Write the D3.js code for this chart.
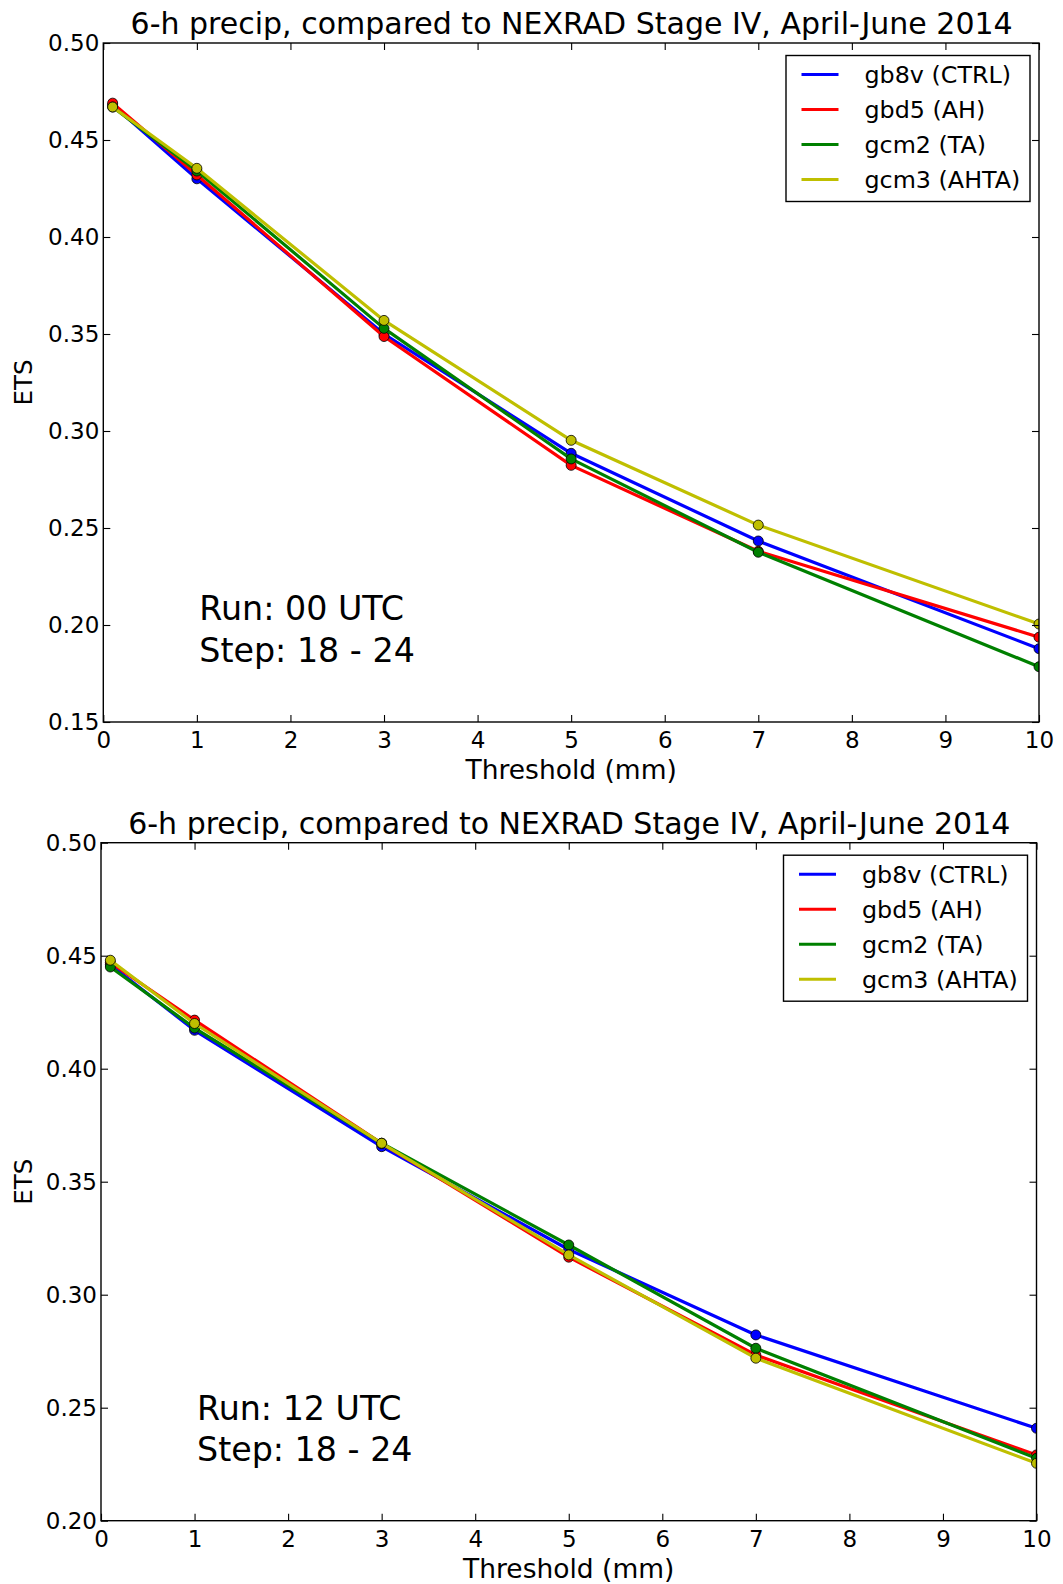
<!DOCTYPE html>
<html>
<head>
<meta charset="utf-8">
<script src="https://cdn.jsdelivr.net/npm/d3@7"></script>
<style>
  html, body { margin: 0; padding: 0; background: #ffffff; }
  svg { display: block; }
  text { font-family: "DejaVu Sans", sans-serif; fill: #000; }
</style>
</head>
<body>
<svg id="chart" width="1063" height="1584"></svg>
<script>
// Precipitation thresholds (mm) at which ETS was evaluated
const thresholds = [0.1, 1, 3, 5, 7, 10];

// Experiment names and line colours
const seriesNames = ["gb8v (CTRL)", "gbd5 (AH)", "gcm2 (TA)", "gcm3 (AHTA)"];
const seriesColors = ["#0000ff", "#ff0000", "#008000", "#bfbf00"];

// ETS, 00 UTC runs, 18-24 h forecasts
const ets00_gb8v = [0.468, 0.430, 0.350, 0.2885, 0.2433, 0.1878];
const ets00_gbd5 = [0.469, 0.432, 0.3487, 0.2823, 0.2380, 0.1937];
const ets00_gcm2 = [0.467, 0.434, 0.3529, 0.2856, 0.2375, 0.1785];
const ets00_gcm3 = [0.467, 0.4354, 0.357, 0.2952, 0.2515, 0.2005];

// ETS, 12 UTC runs, 18-24 h forecasts
const ets12_gb8v = [0.446, 0.417, 0.3655, 0.320, 0.2822, 0.2409];
const ets12_gbd5 = [0.447, 0.4215, 0.367, 0.3166, 0.2733, 0.2291];
const ets12_gcm2 = [0.445, 0.418, 0.367, 0.322, 0.2763, 0.2276];
const ets12_gcm3 = [0.448, 0.420, 0.367, 0.3176, 0.2719, 0.2254];

// Axis ticks
const xTicks = [0, 1, 2, 3, 4, 5, 6, 7, 8, 9, 10];
const yTicks00 = [0.15, 0.20, 0.25, 0.30, 0.35, 0.40, 0.45, 0.50];
const yTicks12 = [0.20, 0.25, 0.30, 0.35, 0.40, 0.45, 0.50];

const titleText = "6-h precip, compared to NEXRAD Stage IV, April-June 2014";
const xLabel = "Threshold (mm)";
const yLabel = "ETS";

const panels = [
  { id: "p00", box: { left: 103.3, right: 1039, top: 43, bottom: 722 },
    yDomain: [0.15, 0.50], yTicks: yTicks00,
    values: [ets00_gb8v, ets00_gbd5, ets00_gcm2, ets00_gcm3],
    note: ["Run: 00 UTC", "Step: 18 - 24"] },
  { id: "p12", box: { left: 101, right: 1036.5, top: 842.7, bottom: 1520.7 },
    yDomain: [0.20, 0.50], yTicks: yTicks12,
    values: [ets12_gb8v, ets12_gbd5, ets12_gcm2, ets12_gcm3],
    note: ["Run: 12 UTC", "Step: 18 - 24"] }
];

const svg = d3.select("#chart");
svg.append("rect").attr("width", 1063).attr("height", 1584).attr("fill", "#fff");

const TICK = 7;

panels.forEach(p => {
  const b = p.box;
  const w = b.right - b.left, h = b.bottom - b.top;
  const x = d3.scaleLinear().domain([0, 10]).range([b.left, b.right]);
  const y = d3.scaleLinear().domain(p.yDomain).range([b.bottom, b.top]);
  const g = svg.append("g").attr("class", "panel");

  const clipId = "clip-" + p.id;
  g.append("clipPath").attr("id", clipId)
    .append("rect").attr("x", b.left).attr("y", b.top).attr("width", w).attr("height", h);

  // Series: each line followed by its markers
  const line = d3.line().x((d, i) => x(thresholds[i])).y(d => y(d));
  const plot = g.append("g").attr("clip-path", `url(#${clipId})`);
  p.values.forEach((vals, si) => {
    plot.append("path").datum(vals)
      .attr("d", line)
      .attr("fill", "none")
      .attr("stroke", seriesColors[si])
      .attr("stroke-width", 3.2)
      .attr("stroke-linejoin", "round");
    plot.selectAll(null).data(vals).enter().append("circle")
      .attr("cx", (d, i) => x(thresholds[i]))
      .attr("cy", d => y(d))
      .attr("r", 5)
      .attr("fill", seriesColors[si])
      .attr("stroke", "#000")
      .attr("stroke-width", 0.8);
  });

  // Axes with inward ticks on all four sides
  const fmt = d3.format(".2f");
  const axB = g.append("g").attr("transform", `translate(0,${b.bottom})`)
    .call(d3.axisBottom(x).tickValues(xTicks).tickFormat(d3.format("d"))
      .tickSizeInner(-TICK).tickSizeOuter(0).tickPadding(9.5));
  const axT = g.append("g").attr("transform", `translate(0,${b.top})`)
    .call(d3.axisTop(x).tickValues(xTicks).tickFormat("")
      .tickSizeInner(-TICK).tickSizeOuter(0));
  const axL = g.append("g").attr("transform", `translate(${b.left},0)`)
    .call(d3.axisLeft(y).tickValues(p.yTicks).tickFormat(fmt)
      .tickSizeInner(-TICK).tickSizeOuter(0).tickPadding(4));
  const axR = g.append("g").attr("transform", `translate(${b.right},0)`)
    .call(d3.axisRight(y).tickValues(p.yTicks).tickFormat("")
      .tickSizeInner(-TICK).tickSizeOuter(0));
  [axB, axT, axL, axR].forEach(a => {
    a.select(".domain").remove();
    a.selectAll(".tick line").attr("stroke", "#000").attr("stroke-width", 1.1);
    a.selectAll(".tick text").attr("font-size", 23).attr("font-family", "DejaVu Sans").attr("fill", "#000");
  });

  // Frame
  g.append("rect").attr("x", b.left).attr("y", b.top).attr("width", w).attr("height", h)
    .attr("fill", "none").attr("stroke", "#000").attr("stroke-width", 1.4);

  // Title and axis labels
  g.append("text").attr("x", (b.left + b.right) / 2 + 0.5).attr("y", b.top - 9)
    .attr("text-anchor", "middle").attr("font-size", 30).text(titleText);
  g.append("text").attr("x", (b.left + b.right) / 2).attr("y", b.bottom + 57)
    .attr("text-anchor", "middle").attr("font-size", 26.5).text(xLabel);
  g.append("text")
    .attr("transform", `translate(${32},${(b.top + b.bottom) / 2}) rotate(-90)`)
    .attr("text-anchor", "middle").attr("font-size", 24.5).text(yLabel);

  // Run / step annotation
  g.append("text").attr("x", b.left + 96).attr("y", b.top + 577)
    .attr("font-size", 33.3).text(p.note[0]);
  g.append("text").attr("x", b.left + 96).attr("y", b.top + 618.7)
    .attr("font-size", 33.3).text(p.note[1]);

  // Legend
  const lgW = 244, lgH = 146;
  const lgX = b.right - 9 - lgW, lgY = b.top + 12.5;
  const lg = g.append("g").attr("transform", `translate(${lgX},${lgY})`);
  lg.append("rect").attr("width", lgW).attr("height", lgH)
    .attr("fill", "#fff").attr("stroke", "#000").attr("stroke-width", 1.4);
  seriesNames.forEach((name, i) => {
    const ry = 19 + 35 * i;
    lg.append("line").attr("x1", 15.5).attr("x2", 52.5).attr("y1", ry).attr("y2", ry)
      .attr("stroke", seriesColors[i]).attr("stroke-width", 3);
    lg.append("text").attr("x", 78.5).attr("y", ry).attr("dy", "0.36em")
      .attr("font-size", 23.8).text(name);
  });
});
</script>
</body>
</html>
